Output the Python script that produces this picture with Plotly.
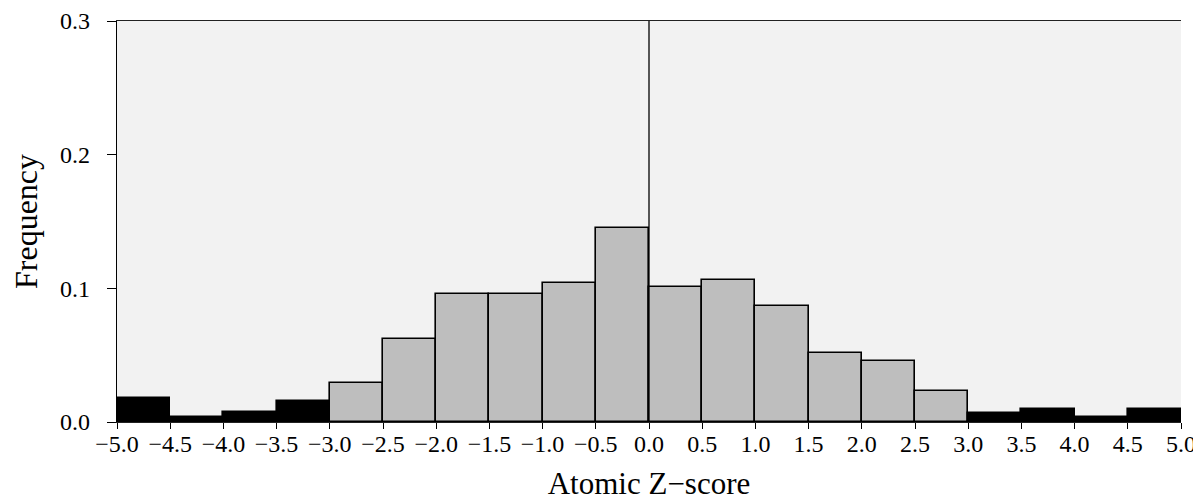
import plotly.graph_objects as go

bin_left = [-5.0, -4.5, -4.0, -3.5, -3.0, -2.5, -2.0, -1.5, -1.0, -0.5,
            0.0, 0.5, 1.0, 1.5, 2.0, 2.5, 3.0, 3.5, 4.0, 4.5]
frequency = [0.018, 0.0036, 0.0072, 0.0155, 0.029, 0.062, 0.0955, 0.0955, 0.104, 0.145,
             0.101, 0.1065, 0.087, 0.0515, 0.0455, 0.0235, 0.007, 0.0095, 0.0036, 0.0095]
bin_width = 0.5
x_ticks = [-5.0 + 0.5 * i for i in range(21)]
y_ticks = [0.0, 0.1, 0.2, 0.3]

centers = [b + bin_width / 2 for b in bin_left]
colors = ["#000000" if abs(c) > 3 else "#bebebe" for c in centers]

fig = go.Figure()
fig.add_trace(go.Bar(
    x=centers, y=frequency, width=[bin_width] * len(centers),
    marker=dict(color=colors, line=dict(color="#000000", width=1.6)),
    showlegend=False, hoverinfo="x+y",
))

fig.add_shape(type="line", x0=0, x1=0, y0=0, y1=0.3, xref="x", yref="y",
              line=dict(color="#000000", width=1.3), layer="above")

font_family = "Liberation Serif"
fig.update_layout(
    template="none",
    width=1193, height=493,
    margin=dict(l=109, r=20, t=13, b=79),
    paper_bgcolor="#ffffff", plot_bgcolor="#f2f2f2",
    bargap=0,
    font=dict(family=font_family, color="#000000", size=24),
    xaxis=dict(
        automargin=False, mirror=True,
        range=[-5.0, 5.0], tickvals=x_ticks, tickformat=".1f",
        showgrid=False, zeroline=False, showline=True, linecolor="#222222", linewidth=1.3,
        ticks="outside", ticklen=6, tickwidth=1.3, tickcolor="#000000",
        tickfont=dict(size=24), ticklabelstandoff=-6,
        title=dict(text="Atomic Z\u2212score", font=dict(size=31), standoff=17),
    ),
    yaxis=dict(
        automargin=False,
        range=[0.0, 0.3], tickvals=y_ticks, tickformat=".1f",
        showgrid=False, zeroline=False, showline=True, linecolor="#000000", linewidth=1.3,
        ticks="outside", ticklen=9, tickwidth=1.3, tickcolor="#000000",
        tickfont=dict(size=24), ticklabelstandoff=12,
        title=dict(text="Frequency", font=dict(size=32), standoff=20),
    ),
)

fig.write_html("out.html")
